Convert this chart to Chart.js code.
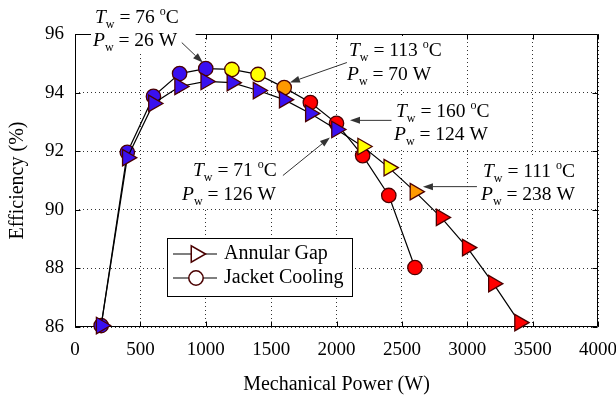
<!DOCTYPE html>
<html><head><meta charset="utf-8">
<script src="https://cdn.jsdelivr.net/npm/chart.js@4"></script>
<style>html,body{margin:0;padding:0;background:#fff}canvas{display:block}</style>
</head><body>
<canvas id="c" width="616" height="398"></canvas>
<script>
// ---- data ----
const annularPower = [200,400,600,800,1000,1200,1400,1600,1800,2000,2200,2400,2600,2800,3000,3200,3400];
const annularEff   = [86.05,91.78,93.63,94.21,94.38,94.34,94.07,93.76,93.29,92.74,92.16,91.44,90.62,89.74,88.71,87.48,86.15];
const jacketPower  = [200,400,600,800,1000,1200,1400,1600,1800,2000,2200,2400,2600];
const jacketEff    = [86.05,91.96,93.87,94.65,94.82,94.79,94.62,94.17,93.66,92.95,91.85,90.49,88.03];
const xTicks = [0,500,1000,1500,2000,2500,3000,3500,4000];
const yTicks = [86,88,90,92,94,96];
const seriesNames = ['Annular Gap','Jacket Cooling'];
const xTitle = 'Mechanical Power (W)';
const yTitle = 'Efficiency (%)';
// winding temperature / loss call-outs
const calloutTw = [76,113,160,71,111];
const calloutPw = [26,70,124,126,238];

// ---- styles ----
const BLUE='#3a10f0', YEL='#ffff00', ORG='#ff9900', RED='#ff0000', EDGE='#4a0000';
const annularColors = [BLUE,BLUE,BLUE,BLUE,BLUE,BLUE,BLUE,BLUE,BLUE,BLUE,YEL,YEL,ORG,RED,RED,RED,RED];
const jacketColors  = [BLUE,BLUE,BLUE,BLUE,BLUE,YEL,YEL,ORG,RED,RED,RED,RED,RED];
const FONT = "'Liberation Serif','Times New Roman',Times,serif";
// call-out layout: target dataset/index, line positions, arrow head/tail offsets (px from target)
const calloutLayout = [
  {ds:1, idx:4,  l1:[95,23],  l2:[93,46],  head:[-3,-6],   tail:[-24,-26], padR:17},
  {ds:1, idx:7,  l1:[349,56], l2:[347,80], head:[5.7,-5.1],tail:[62.7,-25.1], padR:3},
  {ds:1, idx:9,  l1:[396,117],l2:[394,140],head:[13.5,-3], tail:[55,-3], padR:3},
  {ds:0, idx:9,  l1:[193,176],l2:[182,200],head:[-6.6,8],  tail:[-53.6,46], padR:3},
  {ds:0, idx:12, l1:[483,177],l2:[481,200],head:[8,-5],    tail:[62,-5], padR:3}
];

function runsT(tw){
  return [{t:'T',f:`italic 19.5px ${FONT}`},{t:'w',f:`12px ${FONT}`,dy:5},{t:` = ${tw} `,f:`19.5px ${FONT}`},{t:'o',f:`12px ${FONT}`,dy:-8},{t:'C',f:`19.5px ${FONT}`}];
}
function runsP(pw){
  return [{t:'P',f:`italic 19.5px ${FONT}`},{t:'w',f:`12px ${FONT}`,dy:5},{t:` = ${pw} W`,f:`19.5px ${FONT}`}];
}
function runsWidth(ctx, runs){ let w=0; for(const r of runs){ctx.font=r.f; w+=ctx.measureText(r.t).width;} return w; }
function drawRuns(ctx, runs, x, y){ let cx=x; for(const r of runs){ctx.font=r.f; ctx.fillText(r.t,cx,y+(r.dy||0)); cx+=ctx.measureText(r.t).width;} }

function arrow(ctx, x1,y1,x2,y2){
  const ang=Math.atan2(y2-y1,x2-x1), L=10, W=3.5;
  const bx=x2-Math.cos(ang)*L, by=y2-Math.sin(ang)*L;
  ctx.strokeStyle='#333'; ctx.fillStyle='#333'; ctx.lineWidth=1;
  ctx.beginPath(); ctx.moveTo(x1,y1); ctx.lineTo(bx,by); ctx.stroke();
  ctx.beginPath(); ctx.moveTo(x2,y2);
  ctx.lineTo(bx+Math.sin(ang)*W, by-Math.cos(ang)*W);
  ctx.lineTo(bx-Math.sin(ang)*W, by+Math.cos(ang)*W);
  ctx.closePath(); ctx.fill();
}

const framePlugin = {
  id:'frame',
  beforeDatasetsDraw(chart){
    const {ctx, chartArea:a, scales:{x,y}} = chart;
    ctx.save();
    ctx.strokeStyle='#000'; ctx.lineWidth=1;
    const L=Math.round(a.left)+0.5, R=Math.round(a.right)-0.5, T=Math.round(a.top)+0.5, B=Math.round(a.bottom)-0.5;
    ctx.beginPath(); ctx.rect(L,T,R-L,B-T); ctx.stroke();
    ctx.beginPath();
    for(const v of xTicks){ const px=Math.round(x.getPixelForValue(v))+0.5; ctx.moveTo(px,B); ctx.lineTo(px,B-5); ctx.moveTo(px,T); ctx.lineTo(px,T+5); }
    for(const v of yTicks){ const py=Math.round(y.getPixelForValue(v))+0.5; ctx.moveTo(L,py); ctx.lineTo(L+5,py); ctx.moveTo(R,py); ctx.lineTo(R-5,py); }
    ctx.stroke();
    ctx.restore();
  }
};

const overlayPlugin = {
  id:'overlay',
  afterDatasetsDraw(chart){
    const {ctx} = chart;
    ctx.save();
    ctx.textBaseline='alphabetic'; ctx.textAlign='left';
    calloutLayout.forEach((c,i)=>{
      const rT=runsT(calloutTw[i]), rP=runsP(calloutPw[i]);
      const w1=runsWidth(ctx,rT), w2=runsWidth(ctx,rP);
      const left=Math.min(c.l1[0],c.l2[0])-2, right=Math.max(c.l1[0]+w1,c.l2[0]+w2)+c.padR;
      ctx.fillStyle='#fff';
      ctx.fillRect(left, c.l1[1]-20, right-left, c.l2[1]+7-(c.l1[1]-20));
      ctx.fillStyle='#000';
      drawRuns(ctx,rT,c.l1[0],c.l1[1]);
      drawRuns(ctx,rP,c.l2[0],c.l2[1]);
      const pt = chart.getDatasetMeta(c.ds).data[c.idx];
      arrow(ctx, pt.x+c.tail[0], pt.y+c.tail[1], pt.x+c.head[0], pt.y+c.head[1]);
    });
    // legend
    const bx=167.5, by=238.5, bw=185, bh=58;
    ctx.fillStyle='#fff'; ctx.fillRect(bx,by,bw,bh);
    ctx.strokeStyle='#000'; ctx.lineWidth=1; ctx.strokeRect(bx,by,bw,bh);
    const rows=[254,278];
    rows.forEach((ry,k)=>{
      ctx.strokeStyle='#000'; ctx.lineWidth=1.2;
      ctx.beginPath(); ctx.moveTo(173,ry); ctx.lineTo(217,ry); ctx.stroke();
      ctx.fillStyle='#fff'; ctx.strokeStyle=EDGE; ctx.lineWidth=1.5;
      const mx=196;
      ctx.beginPath();
      if(k===0){ const r=9.5; ctx.moveTo(mx+r,ry); ctx.lineTo(mx-r/2,ry-r*0.866); ctx.lineTo(mx-r/2,ry+r*0.866); ctx.closePath(); }
      else { ctx.arc(mx,ry,7.2,0,Math.PI*2); }
      ctx.fill(); ctx.stroke();
      ctx.fillStyle='#000'; ctx.font=`20px ${FONT}`; ctx.textBaseline='middle';
      ctx.fillText(chart.data.datasets[k].label, 224, ry);
    });
    ctx.restore();
  }
};

const tickFont = {family:FONT, size:19};
new Chart(document.getElementById('c').getContext('2d'), {
  type:'line',
  data:{datasets:[
    {label:seriesNames[0], data:annularPower.map((p,i)=>({x:p,y:annularEff[i]})),
     borderColor:'#000', borderWidth:1.2, tension:0, clip:false,
     pointStyle:'triangle', pointRotation:90, pointRadius:9.5, pointHoverRadius:9.5,
     pointBackgroundColor:annularColors, pointBorderColor:EDGE, pointBorderWidth:1.3},
    {label:seriesNames[1], data:jacketPower.map((p,i)=>({x:p,y:jacketEff[i]})),
     borderColor:'#000', borderWidth:1.2, tension:0, clip:false,
     pointStyle:'circle', pointRadius:7.2, pointHoverRadius:7.2,
     pointBackgroundColor:jacketColors, pointBorderColor:EDGE, pointBorderWidth:1.3}
  ]},
  options:{
    responsive:false, animation:false, events:[],
    layout:{padding:{top:34,right:18,left:0,bottom:0}},
    plugins:{legend:{display:false}, tooltip:{enabled:false}},
    scales:{
      x:{type:'linear', min:0, max:4000,
         afterFit(s){s.height=71; s.paddingLeft=0; s.paddingRight=0;},
         afterBuildTicks(s){s.ticks=xTicks.map(v=>({value:v}));},
         ticks:{font:tickFont, color:'#000', padding:12, maxRotation:0, autoSkip:false, callback:v=>String(v)},
         grid:{color:'#333', lineWidth:1, drawTicks:false},
         border:{display:false, dash:[1,3]},
         title:{display:true, text:xTitle, color:'#000', font:{family:FONT,size:20,lineHeight:1}, padding:{top:0,bottom:3.5}}},
      y:{type:'linear', min:86, max:96,
         afterFit(s){s.width=75; s.paddingTop=0; s.paddingBottom=0;},
         afterBuildTicks(s){s.ticks=yTicks.map(v=>({value:v}));},
         ticks:{font:tickFont, color:'#000', padding:11, autoSkip:false, callback:v=>String(v)},
         grid:{color:'#333', lineWidth:1, drawTicks:false},
         border:{display:false, dash:[1,3]},
         title:{display:true, text:yTitle, color:'#000', font:{family:FONT,size:20,lineHeight:1}, padding:{top:8,bottom:0}}}
    }
  },
  plugins:[framePlugin, overlayPlugin]
});
</script>
</body></html>
